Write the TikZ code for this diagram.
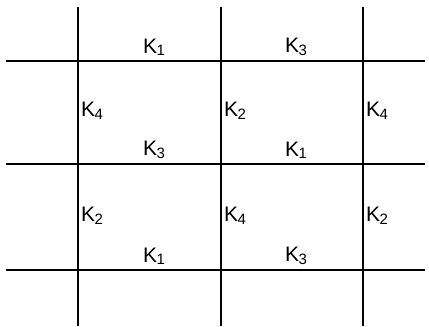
\documentclass[tikz,border=0pt]{standalone}
\usepackage{fontspec}
\setmainfont{Liberation Sans}
\newcommand{\ksub}[1]{K\kern-0.5pt\raisebox{-0.25ex}{\fontsize{15}{15}\selectfont #1}}
\begin{document}
\begin{tikzpicture}[x=1pt, y=-1pt,
    gridline/.style={line width=1.6pt},
    klabel/.style={font=\fontsize{21}{23}\selectfont, inner sep=1pt}]
    \useasboundingbox (0,0) rectangle (429,327);
    % Grid
    \foreach \y in {61,164,270} {
        \draw[gridline] (6,\y) -- (425,\y);
    }
    \foreach \x in {78,221,363} {
        \draw[gridline] (\x,7) -- (\x,326);
    }

    % Labels above the horizontal lines
    \node[klabel, above] (h11) at (154,57) {\ksub{1}};
    \node[klabel, above] (h12) at (296,57) {\ksub{3}};
    \node[klabel, above] (h21) at (154,160) {\ksub{3}};
    \node[klabel, above] (h22) at (296,160) {\ksub{1}};
    \node[klabel, above] (h31) at (154,266) {\ksub{1}};
    \node[klabel, above] (h32) at (296,266) {\ksub{3}};

    % Labels right of the vertical lines
    \node[klabel, right] (v11) at (80,111) {\ksub{4}};
    \node[klabel, right] (v12) at (223,111) {\ksub{2}};
    \node[klabel, right] (v13) at (365,111) {\ksub{4}};
    \node[klabel, right] (v21) at (80,216) {\ksub{2}};
    \node[klabel, right] (v22) at (223,216) {\ksub{4}};
    \node[klabel, right] (v23) at (365,216) {\ksub{2}};
\end{tikzpicture}
\end{document}
